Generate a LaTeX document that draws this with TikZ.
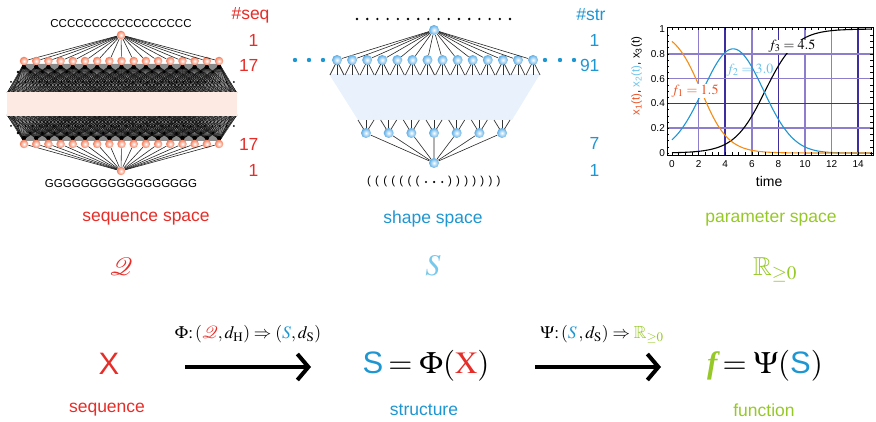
\documentclass[tikz,border=0pt]{standalone}
\usepackage{mathptmx}
\usepackage{amssymb}
\usepackage[no-math]{fontspec}
\setmainfont{Liberation Sans}
\newfontfamily\serifft{Liberation Serif}
\usetikzlibrary{arrows.meta}
\definecolor{cred}{RGB}{230,45,40}
\definecolor{cblue}{RGB}{30,150,210}
\definecolor{clblue}{RGB}{120,200,235}
\definecolor{cgreen}{RGB}{150,200,40}
\definecolor{csal}{RGB}{245,125,90}
\definecolor{cball}{RGB}{95,175,230}
\definecolor{cpink}{RGB}{253,234,226}
\definecolor{ctrap}{RGB}{232,241,252}
\definecolor{glight}{RGB}{140,125,205}
\definecolor{gdark}{RGB}{60,45,160}
\definecolor{corange}{RGB}{245,140,20}
\definecolor{cf1}{RGB}{235,85,40}
\definecolor{cf2}{RGB}{110,195,235}
\begin{document}
\begin{tikzpicture}[x=1pt,y=-1pt,
  salball/.style={circle,inner sep=0pt,minimum size=8.5pt,shading=radial,inner color=white,outer color=csal},
  bluball/.style={circle,inner sep=0pt,minimum size=10pt,shading=radial,inner color=white,outer color=cball},
  lab/.style={font=\fontsize{17.5}{20}\selectfont},
  small/.style={font=\fontsize{11.5}{13}\selectfont},
  big/.style={font=\fontsize{31}{34}\selectfont},
  tick/.style={font=\fontsize{10}{12}\selectfont,inner sep=1pt},
  flab/.style={font=\fontsize{14}{16}\selectfont,inner sep=0.6pt},
  mapa/.style={line width=4pt,-{Straight Barb[length=11pt,width=26pt]}},
  mesh/.style={line width=0.35pt,black,opacity=0.9},
  link/.style={line width=0.6pt,black!85}]
\path[use as bounding box] (0,0) rectangle (876,422);

% ---------------- sequence space ----------------
\fill[black!45] (24,64) -- (219,64) -- (237,93) -- (7,93) -- cycle;
\fill[black!45] (24,141) -- (219,141) -- (237,115) -- (7,115) -- cycle;
\foreach \i in {0,...,16} {
  \pgfmathsetmacro\xx{24+12.19*\i}
  \foreach \j in {0,...,46} {
    \pgfmathsetmacro\pp{7+5*\j}
    \pgfmathtruncatemacro\ok{abs(\pp-\xx)<42 ? 1 : 0}
    \ifnum\ok=1
      \draw[mesh] (\xx,66) -- (\pp,93);
      \draw[mesh] (\xx,139) -- (\pp,115);
    \fi
  }
  \fill[black] (\xx,67) circle (2.2);
  \fill[black] (\xx,138) circle (2.2);
  \fill[black] (\xx-6,72) circle (1.4);
  \fill[black] (\xx-6,133) circle (1.4);
}
\foreach \k in {0,1,2,3} {
  \draw[mesh] (24,63) -- (7+2*\k,93);
  \draw[mesh] (219,63) -- (237-2*\k,93);
  \draw[mesh] (24,142) -- (7+2*\k,115);
  \draw[mesh] (219,142) -- (237-2*\k,115);
}
\foreach \j in {0,...,31} {
  \fill[black] (11+7.1875*\j,82) circle (1);
  \fill[black] (11+7.1875*\j,126) circle (1);
}
\fill[cpink] (7,92) rectangle (237,116);

\node[salball] (stop) at (121,35) {};
\node[salball] (sbot) at (121,171) {};
\foreach \i in {0,...,16} {
  \pgfmathsetmacro\xx{24+12.19*\i}
  \node[salball] (sa\i) at (\xx,61) {};
  \node[salball] (sb\i) at (\xx,144) {};
  \draw[link] (stop) -- (sa\i);
  \draw[link] (sbot) -- (sb\i);
}
\node[small] (ctext) at (121,24) {CCCCCCCCCCCCCCCCC};
\node[small] (gtext) at (121,184) {GGGGGGGGGGGGGGGGG};
\node[lab,text=cred,anchor=east] (hseq) at (273,15) {\#seq};
\node[lab,text=cred,anchor=east] (nq1) at (262,40) {1};
\node[lab,text=cred,anchor=east] (nq2) at (262,65) {17};
\node[lab,text=cred,anchor=east] (nq3) at (262,144) {17};
\node[lab,text=cred,anchor=east] (nq4) at (262,170) {1};

% ---------------- shape space ----------------
\foreach \i in {0,...,15} \fill[black] (357+10.2*\i,19) circle (1.3);
\foreach \x in {295,309,323,545,560,574} \fill[cblue] (\x,60) circle (2.2);
\fill[ctrap] (329,74) -- (540,74) -- (512,120) -- (358,120) -- cycle;
\foreach \i in {0,...,13} {
  \pgfmathsetmacro\xx{337+15.08*\i}
  \draw[line width=0.7pt,black!80] (\xx-7,75) -- (\xx,61) -- (\xx+7,75);
  \draw[line width=0.7pt,black!80] (\xx,61) -- (\xx,75);
}
\foreach \i in {0,...,6} {
  \pgfmathsetmacro\xx{366+22.67*\i}
  \draw[line width=0.7pt,black!80] (\xx-8,120) -- (\xx,133) -- (\xx+8,120);
  \draw[line width=0.7pt,black!80] (\xx,133) -- (\xx,120);
}
\node[bluball] (ttop) at (434,30) {};
\node[bluball] (tbot) at (434,163) {};
\foreach \i in {0,...,13} {
  \pgfmathsetmacro\xx{337+15.08*\i}
  \node[bluball] (tr\i) at (\xx,60) {};
  \draw[link] (ttop) -- (tr\i);
}
\foreach \i in {0,...,6} {
  \pgfmathsetmacro\xx{366+22.67*\i}
  \node[bluball] (tl\i) at (\xx,133) {};
  \draw[link] (tbot) -- (tl\i);
}
\foreach \k in {0,...,6} {
  \node[small,inner sep=0pt] (po\k) at (369+8.1*\k,182) {(};
  \node[small,inner sep=0pt] (pc\k) at (450+8.1*\k,182) {)};
}
\foreach \k in {0,1,2} \fill[black] (426+8.1*\k,182) circle (1.2);
\node[lab,text=cblue,anchor=east] (hstr) at (609,15) {\#str};
\node[lab,text=cblue,anchor=east] (nt1) at (603,40) {1};
\node[lab,text=cblue,anchor=east] (nt2) at (603,65) {91};
\node[lab,text=cblue,anchor=east] (nt3) at (603,143) {7};
\node[lab,text=cblue,anchor=east] (nt4) at (603,170) {1};

% ---------------- parameter space (plot) ----------------
\begin{scope}[shift={(672pt,-153pt)},x=13.3pt,y=124pt]
  \foreach \t/\c in {2/glight,4/gdark,6/glight,8/gdark,10/glight,12/glight,14/gdark}
    \draw[\c,line width=1.5pt] (\t,-0.016) -- (\t,1.016);
  \foreach \v/\c in {0.2/glight,0.4/gdark,0.6/glight,0.8/glight}
    \draw[\c,line width=1.5pt] (-0.38,\v) -- (15.1,\v);
  \draw[black,line width=1.1pt] plot[domain=0:15,samples=120,smooth] (\x,{1/(1+exp(min(-0.86*(\x-7),8)))});
  \draw[cblue,line width=1.1pt] plot[domain=0:15,samples=120,smooth] (\x,{0.84*exp(-min(((\x-4.6)/3.2)*((\x-4.6)/3.2),9))});
  \draw[corange,line width=1.1pt] plot[domain=0:15,samples=120,smooth] (\x,{0.9*1.1108/(1+exp(min(\x-2.2,8)))});
  \draw[line width=0.6pt] (-0.38,-0.016) rectangle (15.1,1.016);
  \foreach \t in {0,0.5,...,15} {
    \draw[line width=0.4pt] (\t,-0.016) -- ++(0,2.5pt);
    \draw[line width=0.4pt] (\t,1.016) -- ++(0,-2.5pt);
  }
  \foreach \v in {0,0.05,...,1.0} {
    \draw[line width=0.4pt] (-0.38,\v) -- ++(2.5pt,0);
    \draw[line width=0.4pt] (15.1,\v) -- ++(-2.5pt,0);
  }
  \foreach \v/\s in {0/0,0.2/0.2,0.4/0.4,0.6/0.6,0.8/0.8,1/1}
    \node[tick,anchor=east] at (-0.45,\v) {\s};
  \foreach \t in {0,2,...,14}
    \node[tick] at (\t,-0.09) {\t};
  \node[font=\fontsize{14}{16}\selectfont] (tlab) at (7.3,-0.23) {time};
  \node[rotate=90,font=\fontsize{11.5}{13}\selectfont] (ylab) at (-2.65,0.62)
    {\textcolor{cf1}{x\textsubscript{1}(t)}, \textcolor{cf2}{x\textsubscript{2}(t)}, x\textsubscript{3}(t)};
  \node[flab,fill=white,text=cf1] (f1) at (1.73,0.5) {$f_1=1.5$};
  \node[flab,text=cf2] (f2) at (5.86,0.67) {$f_2=3.0$};
  \node[flab,fill=white] (f3) at (9.02,0.86) {$f_3=4.5$};
\end{scope}

% ---------------- space labels ----------------
\node[lab,text=cred] (lseq) at (146,219) {sequence space};
\node[lab,text=cblue] (lsha) at (433,219) {shape space};
\node[lab,text=cgreen] (lpar) at (771,219) {parameter space};
\node[font=\fontsize{25}{28}\selectfont,text=cred] (Qs) at (121,267) {$\mathcal{Q}$};
\node[font=\fontsize{30}{32}\selectfont,text=clblue] (Ss) at (433,266) {$S$};
\node[font=\fontsize{26}{28}\selectfont,text=cgreen] (Rs) at (775,270) {$\mathbb{R}_{\geq 0}$};

% ---------------- bottom row ----------------
\node[big,text=cred] (X) at (109,364) {X};
\node[lab,text=cred] (lX) at (107,410) {sequence};
\node[big] (Sexp) at (426,366) {\textcolor{cblue}{S}\,$=\Phi(\textcolor{cred}{\mathrm{X}})$};
\node[lab,text=cblue] (lS) at (424,410) {structure};
\node[big] (fexp) at (765,366) {\textcolor{cgreen}{\serifft\bfseries\itshape f}\,$=\Psi($\textcolor{cblue}{S}$)$};
\node[lab,text=cgreen] (lf) at (764,410) {function};

\coordinate (a1s) at (185,367);
\coordinate (a1e) at (311,367);
\coordinate (a2s) at (535,367);
\coordinate (a2e) at (661,367);
\draw[mapa] (a1s) -- (a1e);
\draw[mapa] (a2s) -- (a2e);
\node[lab] (phil) at (248,334) {$\Phi\colon(\textcolor{cred}{\mathcal{Q}},d_{\mathrm{H}})\Rightarrow(\textcolor{cblue}{S},d_{\mathrm{S}})$};
\node[lab] (psil) at (602,334) {$\Psi\colon(\textcolor{cblue}{S}\,,d_{\mathrm{S}})\Rightarrow\textcolor{cgreen}{\mathbb{R}_{\geq 0}}$};
\end{tikzpicture}
\end{document}
